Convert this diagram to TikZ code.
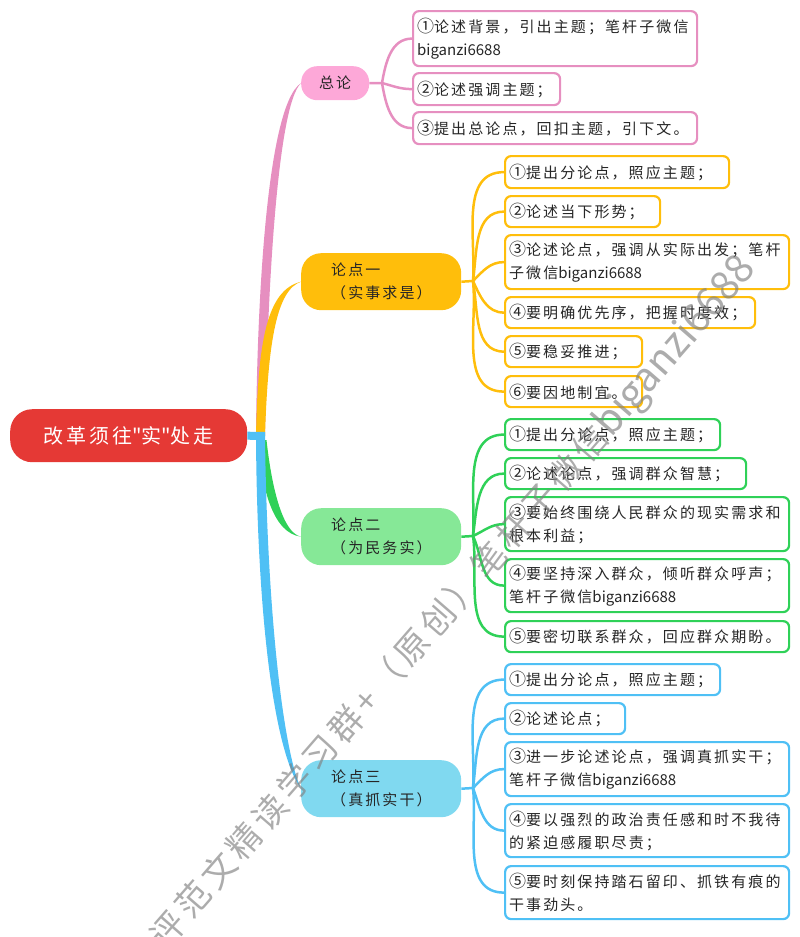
\documentclass[tikz,border=0pt]{standalone}
\usepackage{fontspec}
\setmainfont[LetterSpace=14]{Noto Sans CJK SC}
\newfontfamily\plain{Noto Sans CJK SC}
\usetikzlibrary{calc}
\definecolor{redroot}{HTML}{E53935}
\definecolor{pinkline}{HTML}{E68FC0}
\definecolor{pinkfill}{HTML}{FDA8D8}
\definecolor{yellowline}{HTML}{FFBE0B}
\definecolor{greenline}{HTML}{2FD158}
\definecolor{greenfill}{HTML}{86E897}
\definecolor{blueline}{HTML}{4FC0F5}
\definecolor{bluefill}{HTML}{80D9F0}
\tikzset{
  body/.style={font=\fontsize{15}{23}\selectfont, text=black!85},
  leaf/.style={body, draw=#1, line width=2.2pt, rounded corners=6pt, fill=white,
    anchor=north west, align=left, inner xsep=4pt, inner ysep=0pt},
  branch/.style={body, fill=#1, rounded corners=20pt, anchor=north west,
    align=left, inner xsep=30pt, inner ysep=0pt},
  twig/.style={draw=#1, line width=2.5pt}
}
% tapered limb: colour, hub, target, first control, second control
\newcommand{\limb}[5]{\fill[#1] ($(#2)+(-4.5,0)$) .. controls ($(#4)+(-5,0)$) and ($(#5)+(-5,0)$) .. (#3.west)
  .. controls ($(#5)+(5,0)$) and ($(#4)+(5,0)$) .. ($(#2)+(4.5,0)$) -- cycle;}
\newcommand{\wx}{{\plain biganzi6688}}
\newcommand{\nm}[1]{{\fontsize{17}{23}\selectfont #1}}
\begin{document}
\begin{tikzpicture}[x=1pt,y=-1pt]
  \useasboundingbox (0,0) rectangle (800,937);

  % root and the four branches
  \node[fill=redroot, text=white, rounded corners=22pt, anchor=north west, minimum width=237pt,
    minimum height=53pt, font=\fontsize{20}{24}\selectfont] (root) at (10,409) {改革须往{\plain"}实{\plain"}处走};
  \node[branch=pinkfill, rounded corners=16pt, anchor=north west, minimum width=68pt, minimum height=34pt,
    inner xsep=0pt, align=center] (zong) at (301,66) {总论};
  \node[branch=yellowline, text width=100pt, minimum height=57pt] (yi) at (301,253) {论点一\\（实事求是）};
  \node[branch=greenfill, text width=100pt, minimum height=57pt] (er) at (301,508) {论点二\\（为民务实）};
  \node[branch=bluefill, text width=100pt, minimum height=57pt] (san) at (301,760) {论点三\\（真抓实干）};

  \coordinate (hubr) at (260.5,436);
  \coordinate (hubg) at (262,440);
  \coordinate (hubz) at (382,83);
  \coordinate (huby) at (473,281);
  \coordinate (hube) at (473,536);
  \coordinate (hubs) at (473,788);

  % trunks
  \limb{pinkline}{hubr}{zong}{262,300}{272,105}
  \limb{greenline}{hubg}{er}{267,490}{278,533}
  \limb{yellowline}{hubr}{yi}{263,340}{272,290}
  \limb{blueline}{hubr}{san}{262,610}{278,750}
  \draw[blueline, line width=8pt] (root.east) -- (265,436);

  % leaves
  \foreach \c/\n/\x/\y/\w/\h/\t in {
    pinkline/z1/412/10/286/57/{\nm{①}论述背景，引出主题；笔杆子微信\\\wx},
    pinkline/z2/412/72/149/34/{\nm{②}论述强调主题；},
    pinkline/z3/412/111/286/34/{\nm{③}提出总论点，回扣主题，引下文。},
    yellowline/y1/504/155/226/34/{\nm{①}提出分论点，照应主题；},
    yellowline/y2/504/195/157/33/{\nm{②}论述当下形势；},
    yellowline/y3/504/234/286/56/{\nm{③}论述论点，强调从实际出发；笔杆\\子微信\wx},
    yellowline/y4/504/296/252/33/{\nm{④}要明确优先序，把握时度效；},
    yellowline/y5/504/335/139/33/{\nm{⑤}要稳妥推进；},
    yellowline/y6/504/375/139/33/{\nm{⑥}要因地制宜。},
    greenline/e1/504/418/217/33/{\nm{①}提出分论点，照应主题；},
    greenline/e2/504/457/243/33/{\nm{②}论述论点，强调群众智慧；},
    greenline/e3/504/496/286/56/{\nm{③}要始终围绕人民群众的现实需求和\\根本利益；},
    greenline/e4/504/558/286/55/{\nm{④}要坚持深入群众，倾听群众呼声；\\笔杆子微信\wx},
    greenline/e5/504/620/286/33/{\nm{⑤}要密切联系群众，回应群众期盼。},
    blueline/s1/504/663/217/33/{\nm{①}提出分论点，照应主题；},
    blueline/s2/504/702/122/33/{\nm{②}论述论点；},
    blueline/s3/504/741/286/56/{\nm{③}进一步论述论点，强调真抓实干；\\笔杆子微信\wx},
    blueline/s4/504/803/286/55/{\nm{④}要以强烈的政治责任感和时不我待\\的紧迫感履职尽责；},
    blueline/s5/504/865/286/55/{\nm{⑤}要时刻保持踏石留印、抓铁有痕的\\干事劲头。}}
    \node[leaf=\c, text width=\w pt-10pt, minimum height=\h pt-2pt] (\n) at (\x,\y) {\t};

  % connectors
  \draw[twig=pinkline] (zong.east) -- (hubz);
  \foreach \n/\a in {z1/80, z2/-15, z3/-80}
    \draw[twig=pinkline] (hubz) to[out=\a,in=180] (\n.west);
  \draw[twig=yellowline] (yi.east) -- (huby);
  \foreach \n/\a in {y1/86, y2/82, y3/45, y4/-65, y5/-80, y6/-84}
    \draw[twig=yellowline] (huby) to[out=\a,in=180] (\n.west);
  \draw[twig=greenline] (er.east) -- (hube);
  \foreach \n/\a in {e1/86, e2/82, e3/25, e4/-65, e5/-82}
    \draw[twig=greenline] (hube) to[out=\a,in=180] (\n.west);
  \draw[twig=blueline] (san.east) -- (hubs);
  \foreach \n/\a in {s1/86, s2/82, s3/45, s4/-70, s5/-84}
    \draw[twig=blueline] (hubs) to[out=\a,in=180] (\n.west);

  % watermark
  \node[rotate=49, anchor=west, text=black!50, text opacity=.65, inner sep=0pt,
    font=\fontsize{34}{40}\selectfont] (mark) at (158,943) {评范文精读学习群+（原创）笔杆子微信{\plain\fontsize{40}{40}\selectfont biganzi6688}};
\end{tikzpicture}
\end{document}
